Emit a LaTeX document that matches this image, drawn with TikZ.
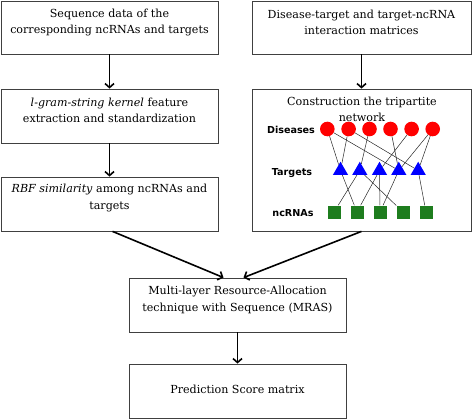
\documentclass[tikz,border=0pt]{standalone}
\usepackage{fontspec}
\setmainfont{DejaVu Serif}
\newfontfamily\lblfont{DejaVu Sans}
\usetikzlibrary{arrows.meta,shapes.geometric}
\definecolor{ncgreen}{RGB}{30,125,30}
\tikzset{
  box/.style={draw=black!75, line width=0.8pt, minimum width=217pt, minimum height=53pt, inner sep=0pt},
  boxtext/.style={align=center, font=\fontsize{11.1}{16.2}\selectfont, inner sep=0pt},
  flow/.style={line width=1.6pt, -{Straight Barb[length=4pt,width=9pt]}},
  disease/.style={circle, fill=red, minimum size=14.6pt, inner sep=0pt},
  target/.style={regular polygon, regular polygon sides=3, fill=blue, minimum size=17.5pt, inner sep=0pt},
  ncrna/.style={rectangle, fill=ncgreen, minimum size=13pt, inner sep=0pt},
  layer/.style={font=\lblfont\bfseries\fontsize{9.6}{11}\selectfont, inner sep=0pt},
  link/.style={line width=0.5pt, black!85}
}
\begin{document}
\begin{tikzpicture}[x=1pt, y=-1pt]
        \useasboundingbox (0,0) rectangle (472,420);
        % left column
        \node [box] (seq)  at (109.5,27.5)  {};                                                 %
        \node [boxtext] (seqtxt) at ([yshift=5pt]seq.center) {Sequence data of the\\corresponding ncRNAs and targets};
        \node [box, minimum height=54pt] (kern) at (109.5,116) {};                              %
        \node [boxtext] (kerntxt) at ([yshift=6pt]kern.center) {\textit{l-gram-string kernel} feature\\extraction and standardization};
        \node [box, minimum height=54pt] (rbf)  at (109.5,204) {};                              %
        \node [boxtext] (rbftxt) at ([yshift=6pt]rbf.center) {\textit{RBF similarity} among ncRNAs and\\targets};
        % right column
        \node [box, minimum width=219pt] (intr) at (361.5,27.5) {};                             %
        \node [boxtext] (intrtxt) at ([yshift=5pt]intr.center) {Disease-target and target-ncRNA\\interaction matrices};
        \node [box, minimum width=219pt, minimum height=142pt] (net) at (361.5,160) {};         %
        \node [boxtext] (nettxt) at (362,109.5) {Construction the tripartite\\network};
        % bottom
        \node [box, minimum height=54pt] (mras) at (237.5,305) {};                              %
        \node [boxtext] (mrastxt) at ([yshift=5pt]mras.center) {Multi-layer Resource-Allocation\\technique with Sequence (MRAS)};
        \node [box, minimum height=54pt] (pred) at (237.5,391) {};                              %
        \node [boxtext] (predtxt) at ([yshift=2pt]pred.center) {Prediction Score matrix};

        % tripartite network
        \node [layer] (dislab) at (291,130) {Diseases};                                         %
        \node [layer] (tglab)  at (292,173) {Targets};                                          %
        \node [layer] (nclab)  at (293,213) {ncRNAs};                                           %
        \node [disease] (dis1) at (327.3,129) {};                                               %
        \node [disease] (dis2) at (348.6,129) {};                                               %
        \node [disease] (dis3) at (369.5,129) {};                                               %
        \node [disease] (dis4) at (390.5,129) {};                                               %
        \node [disease] (dis5) at (411.6,129) {};                                               %
        \node [disease] (dis6) at (432.7,129) {};                                               %
        \node [target] (tg1) at (340.5,170.5) {};                                               %
        \node [target] (tg2) at (359.8,170.5) {};                                               %
        \node [target] (tg3) at (379.5,170.5) {};                                               %
        \node [target] (tg4) at (398.8,170.5) {};                                               %
        \node [target] (tg5) at (418.2,170.5) {};                                               %
        \node [ncrna] (nc1) at (334,212) {};                                                    %
        \node [ncrna] (nc2) at (357,212) {};                                                    %
        \node [ncrna] (nc3) at (380,212) {};                                                    %
        \node [ncrna] (nc4) at (403,212) {};                                                    %
        \node [ncrna] (nc5) at (426,212) {};                                                    %
        \draw [link] (dis1) -- (tg1);  \draw [link] (dis1) -- (tg4);                            % disease-target
        \draw [link] (dis2) -- (tg1);  \draw [link] (dis2) -- (tg5);                            %
        \draw [link] (dis3) -- (tg2);  \draw [link] (dis4) -- (tg4);                            %
        \draw [link] (dis5) -- (tg3);  \draw [link] (dis6) -- (tg4);                            %
        \draw [link] (dis6) -- (tg5);                                                           %
        \draw [link] (tg1) -- (nc2);   \draw [link] (tg2) -- (nc1);                             % target-ncRNA
        \draw [link] (tg2) -- (nc4);   \draw [link] (tg3) -- (nc2);                             %
        \draw [link] (tg3) -- (nc3);   \draw [link] (tg4) -- (nc3);                             %
        \draw [link] (tg5) -- (nc5);                                                            %

        % arrows
        \draw [flow] (seq)  -- (kern);                                                          %
        \draw [flow] (kern) -- (rbf);                                                           %
        \draw [flow] (intr) -- (net);                                                           %
        \draw [flow] ([xshift=3pt]rbf.south) -- ([xshift=-14pt]mras.north);                     %
        \draw [flow] (net.south) -- ([xshift=6pt]mras.north);                                   %
        \draw [flow] (mras) -- (pred);                                                          %
\end{tikzpicture}
\end{document}
